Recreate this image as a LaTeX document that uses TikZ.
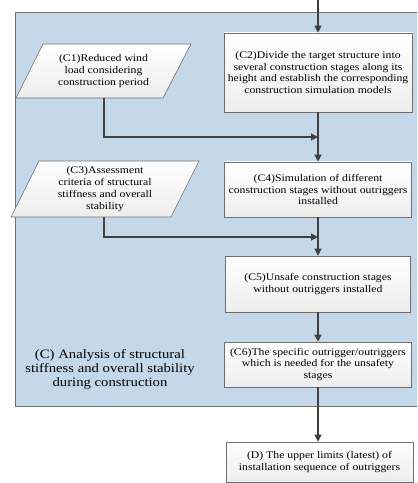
\documentclass[tikz,border=0pt]{standalone}
\usepackage{fontspec}
\setmainfont[FakeStretch=1.15]{Liberation Serif}
\usetikzlibrary{arrows.meta}
\definecolor{panelblue}{HTML}{C5D8EA}
\definecolor{boxline}{HTML}{6E6E6E}
\definecolor{arrowc}{HTML}{404040}
\tikzset{
  box/.style={draw=boxline, line width=0.6bp, top color=white, bottom color=black!7,
    align=center, inner sep=0pt, font=\fontsize{10.2bp}{11.8bp}\selectfont},
  para/.style={draw=boxline, line width=0.6bp, top color=white, bottom color=black!7},
  ptext/.style={align=center, inner sep=0pt, font=\fontsize{10.2bp}{11.8bp}\selectfont},
  flow/.style={draw=arrowc, line width=1.2bp, -{Triangle[length=7bp,width=7bp]}},
}
\begin{document}
\begin{tikzpicture}[x=1bp,y=-1bp]
\useasboundingbox (0,0) rectangle (417,483);
\clip (0,0) rectangle (417,483);
% panel
\draw[fill=panelblue, draw=boxline, line width=0.8bp] (15,12) rectangle (430,406);
\node[align=center, inner sep=0pt, font=\fontsize{12.8bp}{14bp}\selectfont] (lab) at (110,369)
  {(C) Analysis of structural\\stiffness and overall stability\\during construction};
% boxes
\node[box, minimum width=188bp, minimum height=79bp] (c2) at (318,72.5)
  {(C2)Divide the target structure into\\several construction stages along its\\height and establish the corresponding\\construction simulation models};
\node[box, minimum width=187bp, minimum height=55bp] (c4) at (318,189.5)
  {(C4)Simulation of different\\construction stages without outriggers\\installed};
\node[box, minimum width=185bp, minimum height=56bp] (c5) at (318,284)
  {(C5)Unsafe construction stages\\without outriggers installed};
\node[box, minimum width=187bp, minimum height=45bp] (c6) at (318,364.5)
  {(C6)The specific outrigger/outriggers\\which is needed for the unsafety\\stages};
\node[box, minimum width=187bp, minimum height=40bp] (d) at (319.5,462)
  {(D) The upper limits (latest) of\\installation sequence of outriggers};
% parallelograms
\draw[para] (43,44) -- (191,44) -- (163,98) -- (16,98) -- cycle;
\node[ptext] (c1) at (103.5,71) {(C1)Reduced wind\\load considering\\construction period};
\coordinate (c1b) at (104,98);
\draw[para] (39,161) -- (199,161) -- (171,217) -- (11,217) -- cycle;
\node[ptext] (c3) at (105,189) {(C3)Assessment\\criteria of structural\\stiffness and overall\\stability};
\coordinate (c3b) at (104,217);
% connectors
\coordinate (top) at (318,0);
\draw[flow] (top) -- (c2.north);
\draw[flow] (c2.south) -- (c4.north);
\coordinate (m1) at (318,137);
\draw[flow] (c1b) |- (m1);
\draw[flow] (c4.south) -- (c5.north);
\coordinate (m2) at (318,237);
\draw[flow] (c3b) |- (m2);
\draw[flow] (c5.south) -- (c6.north);
\draw[flow] (c6.south) -- (c6.south |- d.north);
\end{tikzpicture}
\end{document}
